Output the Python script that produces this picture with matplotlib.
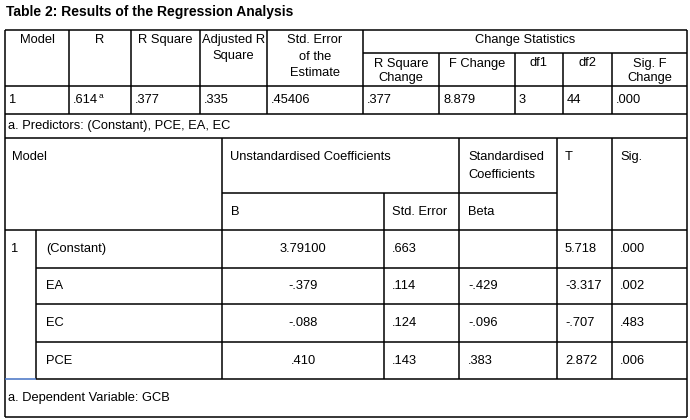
import matplotlib
matplotlib.use('Agg')
import matplotlib.pyplot as plt

plt.rcParams['font.family'] = ['Liberation Sans', 'DejaVu Sans']

title = 'Table 2: Results of the Regression Analysis'

# 模型摘要表
summary_headers = ['Model', 'R', 'R Square', 'Adjusted R\nSquare', 'Std. Error\nof the\nEstimate']
change_headers = ['R Square\nChange', 'F Change', 'df1', 'df2', 'Sig. F\nChange']
summary_values = ['1', '.614', '.377', '.335', '.45406', '.377', '8.879', '3', '44', '.000']
predictors_note = 'a. Predictors: (Constant), PCE, EA, EC'

# 系数表
predictors = ['(Constant)', 'EA', 'EC', 'PCE']
coef_b = ['3.79100', '-.379', '-.088', '.410']
coef_se = ['.663', '.114', '.124', '.143']
coef_beta = ['', '-.429', '-.096', '.383']
coef_t = ['5.718', '-3.317', '-.707', '2.872']
coef_sig = ['.000', '.002', '.483', '.006']
dependent_note = 'a. Dependent Variable: GCB'

fig = plt.figure(figsize=(6.9, 4.2), dpi=100)
ax = fig.add_axes([0, 0, 1, 1])
ax.set_xlim(0, 690)
ax.set_ylim(420, 0)
ax.axis('off')

fs = 9.3
lw = 1.1


def hline(y, x0, x1, color='black'):
    ax.plot([x0, x1], [y, y], color=color, lw=lw, solid_capstyle='butt')


def vline(x, y0, y1):
    ax.plot([x, x], [y0, y1], color='black', lw=lw, solid_capstyle='butt')


def txt(x, y, s, ha='left', va='top', ls=1.4):
    ax.text(x, y, s, ha=ha, va=va, fontsize=fs, linespacing=ls)


ax.text(6, 12, title, ha='left', va='center', fontsize=10, fontweight='bold')

# ---- 上表 ----
L, R = 5, 687
top, head_bot, row_bot, note_bot = 30, 86, 114, 138
cols = [5, 69, 131, 200, 267, 363, 439, 515, 563, 612, 687]
hline(top, L, R)
hline(head_bot, L, R)
hline(row_bot, L, R)
hline(note_bot, L, R)
hline(53, 363, R)
vline(L, top, note_bot)
vline(R, top, note_bot)
for x in cols[1:-1]:
    y0 = 53 if x in cols[6:10] else top
    vline(x, y0, row_bot)

for i, h in enumerate(summary_headers):
    txt((cols[i] + cols[i + 1]) / 2, 34, h, ha='center', ls=1.5)
txt((363 + R) / 2, 34, 'Change Statistics', ha='center')
for i, h in enumerate(change_headers):
    txt((cols[i + 5] + cols[i + 6]) / 2, 57.5, h, ha='center', ls=1.3)

for i, v in enumerate(summary_values):
    txt(cols[i] + 4, 100, v, va='center')
ax.text(98.5, 96, 'a', fontsize=6, ha='left', va='center')
txt(8, 126, predictors_note, va='center')

# ---- 下表 ----
rows = [230, 268, 304, 342, 379]
bottom = 417
vline(L, note_bot, bottom)
vline(R, note_bot, bottom)
vline(36, 230, 379)
vline(222, note_bot, 379)
vline(384, 193, 379)
vline(459, note_bot, 379)
vline(557, note_bot, 379)
vline(612, note_bot, 379)
hline(193, 222, 557)
for y in rows[:-1]:
    hline(y, 5 if y == 230 else 36, R)
hline(379, 5, 36, color='#4472c4')
hline(379, 36, R)
hline(bottom, L, R)

txt(12, 151, 'Model')
txt(230, 151, 'Unstandardised Coefficients')
txt(468, 151, 'Standardised\nCoefficients', ls=1.65)
txt(565, 151, 'T')
txt(620, 151, 'Sig.')
txt(231, 212, 'B', va='center')
txt(392, 212, 'Std. Error', va='center')
txt(468, 212, 'Beta', va='center')

txt(11, 249, '1', va='center')
for i, name in enumerate(predictors):
    yc = (rows[i] + rows[i + 1]) / 2
    txt(46, yc, name, va='center')
    txt(303, yc, coef_b[i], ha='center', va='center')
    txt(392, yc, coef_se[i], va='center')
    txt(468, yc, coef_beta[i], va='center')
    txt(565, yc, coef_t[i], va='center')
    txt(620, yc, coef_sig[i], va='center')
txt(8, 398, dependent_note, va='center')

fig.savefig('out.png', dpi=100)
